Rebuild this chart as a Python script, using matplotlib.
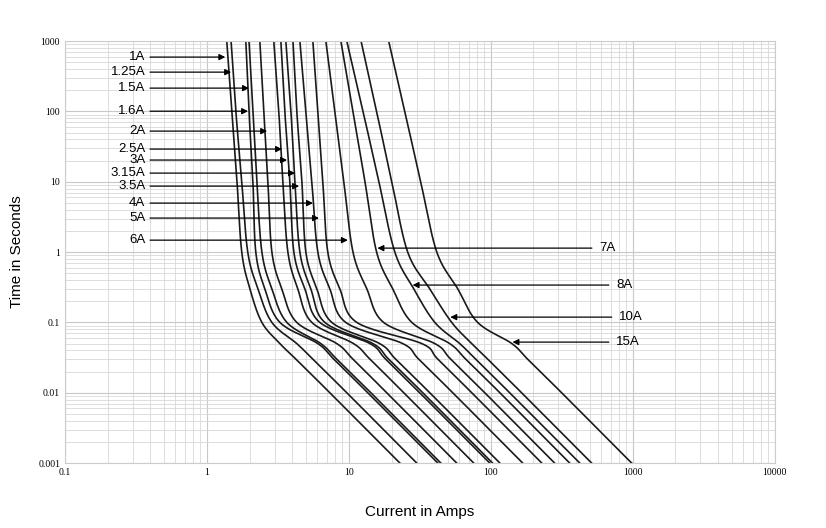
import numpy as np
import matplotlib
matplotlib.use("Agg")
import matplotlib.pyplot as plt

# time levels (s) at which each curve's current (A) was read
times = [1000, 100, 10, 1, 0.3, 0.1, 0.05, 0.03, 0.01, 0.001]

ratings = ["1A", "1.25A", "1.5A", "1.6A", "2A", "2.5A", "3A", "3.15A",
           "3.5A", "4A", "5A", "6A", "7A", "8A", "10A", "15A"]

currents = {
    "1A":    [1.38, 1.50, 1.63, 1.76, 2.01, 2.44, 3.27, 4.24, 7.35, 22.9],
    "1.25A": [1.48, 1.60, 1.76, 1.94, 2.29, 2.87, 4.30, 5.58, 9.68, 30.1],
    "1.5A":  [1.88, 1.98, 2.11, 2.21, 2.56, 3.27, 6.05, 7.84, 13.6, 42.4],
    "1.6A":  [1.98, 2.11, 2.25, 2.44, 2.87, 3.66, 6.35, 8.23, 14.3, 44.5],
    "2A":    [2.36, 2.52, 2.69, 2.87, 3.37, 4.30, 8.23, 10.7, 18.5, 57.6],
    "2.5A":  [2.96, 3.21, 3.43, 3.72, 4.37, 5.49, 10.8, 14.1, 24.4, 75.9],
    "3A":    [3.32, 3.54, 3.84, 4.10, 4.90, 6.25, 14.1, 18.2, 31.6, 98.4],
    "3.15A": [3.60, 3.91, 4.17, 4.52, 5.40, 6.78, 14.8, 19.1, 33.2, 103],
    "3.5A":  [4.04, 4.30, 4.67, 4.98, 5.96, 7.59, 16.5, 21.4, 37.2, 116],
    "4A":    [4.52, 4.98, 5.49, 6.05, 7.35, 9.52, 24.0, 31.1, 54.0, 168],
    "5A":    [5.58, 6.05, 6.56, 7.11, 8.65, 11.4, 32.7, 42.4, 73.5, 229],
    "6A":    [6.89, 7.96, 9.22, 10.7, 13.4, 17.6, 40.4, 52.3, 90.8, 282],
    "7A":    [8.79, 10.7, 13.0, 15.7, 20.4, 27.8, 51.4, 66.7, 116, 360],
    "8A":    [9.68, 12.6, 16.3, 21.1, 28.7, 40.4, 60.5, 78.4, 136, 424],
    "10A":   [12.2, 15.7, 20.1, 26.0, 37.2, 53.1, 73.5, 95.3, 165, 514],
    "15A":   [19.1, 24.8, 32.1, 41.7, 58.6, 80.9, 141, 182, 316, 984],
}

# label placement: label time, arrow tip current, text current
label_time = [594, 363, 215, 101, 52.6, 29.2, 20.4, 13.3, 8.68, 4.98, 3.05, 1.48,
              1.14, 0.34, 0.119, 0.0525]
label_tip = [1.41, 1.55, 2.07, 2.04, 2.78, 3.54, 3.84, 4.37, 4.67, 5.85, 6.45, 10.3,
             15.2, 26.9, 49.6, 136]
label_text_x = [0.38] * 12 + [540, 711, 745, 711]

x_ticks = [0.1, 1, 10, 100, 1000, 10000]
x_tick_labels = ["0.1", "1", "10", "100", "1000", "10000"]
y_ticks = [0.001, 0.01, 0.1, 1, 10, 100, 1000]
y_tick_labels = ["0.001", "0.01", "0.1", "1", "10", "100", "1000"]


def smooth(xs, ys, n=20):
    # Catmull-Rom through points in log-log space
    px = np.log10(xs)
    py = np.log10(ys)
    P = np.column_stack([px, py])
    P = np.vstack([2 * P[0] - P[1], P, 2 * P[-1] - P[-2]])
    out = []
    t = np.linspace(0, 1, n, endpoint=False)[:, None]
    for i in range(1, len(P) - 2):
        p0, p1, p2, p3 = P[i - 1], P[i], P[i + 1], P[i + 2]
        seg = 0.5 * ((2 * p1) + (-p0 + p2) * t + (2 * p0 - 5 * p1 + 4 * p2 - p3) * t ** 2
                     + (-p0 + 3 * p1 - 3 * p2 + p3) * t ** 3)
        out.append(seg)
    out.append(P[-2][None, :])
    out = np.vstack(out)
    return 10 ** out[:, 0], 10 ** out[:, 1]


fig = plt.figure(figsize=(8.26, 5.28), dpi=100)
ax = fig.add_axes([0.0787, 0.123, 0.859, 0.799])
ax.set_xscale("log")
ax.set_yscale("log")
ax.set_xlim(0.1, 10000)
ax.set_ylim(0.001, 1000)

ax.grid(which="major", color="#c8c8c8", linewidth=0.8)
ax.grid(which="minor", color="#d8d8d8", linewidth=0.6)
for s in ax.spines.values():
    s.set_color("#cccccc")
ax.tick_params(which="both", length=0)

for name in ratings:
    xs, ys = smooth(currents[name], times)
    ax.plot(xs, ys, color="#1a1a1a", linewidth=1.2)

arrow_style = dict(arrowstyle="-|>", color="black", lw=0.9, mutation_scale=9)
for i, name in enumerate(ratings):
    right = i >= 12
    ax.annotate("", xy=(label_tip[i], label_time[i]), xytext=(label_text_x[i], label_time[i]),
                arrowprops=arrow_style)
    ax.text(label_text_x[i] * (1.08 if right else 0.97), label_time[i], name,
            ha="left" if right else "right", va="center", fontsize=9.5,
            family="Liberation Sans", color="black")

ax.set_xticks(x_ticks)
ax.set_xticklabels(x_tick_labels, family="Liberation Serif", fontsize=7)
ax.set_yticks(y_ticks)
ax.set_yticklabels(y_tick_labels, family="Liberation Serif", fontsize=7)
ax.set_xlabel("Current in Amps", family="Liberation Sans", fontsize=11, labelpad=20)
ax.set_ylabel("Time in Seconds", family="Liberation Sans", fontsize=11, labelpad=10)

fig.savefig("out.png", dpi=100)
